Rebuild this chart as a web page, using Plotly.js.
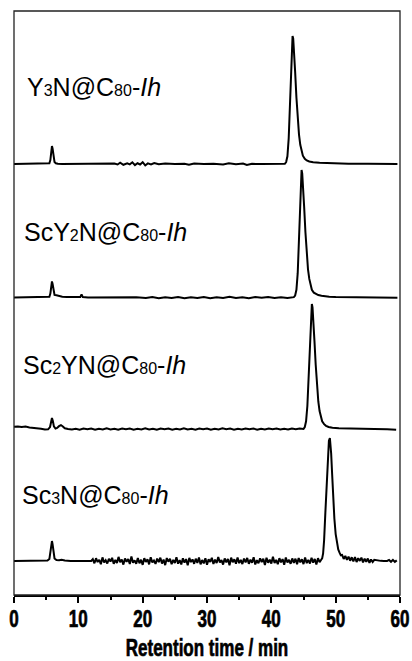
<!DOCTYPE html>
<html>
<head>
<meta charset="utf-8">
<script src="https://cdn.plot.ly/plotly-3.0.1.min.js"></script>
<style>html,body{margin:0;padding:0;background:#fff;}#chart{width:412px;height:661px;}</style>
</head>
<body>
<div id="chart"></div>
<script>
// ---- Data (retention time in min, detector signal in relative units) ----
const labels = [
  'Y<span style="font-size:16px">3</span>N@C<span style="font-size:16px">80</span>-<i>Ih</i>',
  'ScY<span style="font-size:16px">2</span>N@C<span style="font-size:16px">80</span>-<i>Ih</i>',
  'Sc<span style="font-size:16px">2</span>YN@C<span style="font-size:16px">80</span>-<i>Ih</i>',
  'Sc<span style="font-size:16px">3</span>N@C<span style="font-size:16px">80</span>-<i>Ih</i>'
];
const xTicks = [0, 10, 20, 30, 40, 50, 60];

// Y3N@C80-Ih
const t1 = [0, 2, 4, 5.2, 5.5, 5.65, 5.8, 5.9, 6.0, 6.15, 6.3, 6.5, 6.8, 7.5, 10, 13, 15,
  15.6, 16.1, 16.5, 17.0, 17.6, 18.0, 18.4, 18.8, 19.2, 19.6, 20.0, 20.4, 20.8, 21.3, 21.8, 22.5,
  23.5, 25, 26.5, 27.2, 28, 29.5, 31, 32.5, 33.4, 34.5, 35.6, 36.2, 37, 38.5, 40, 41.5, 42.1,
  42.3, 42.5, 42.7, 42.9, 43.05, 43.2, 43.3, 43.4, 43.55, 43.7, 43.9, 44.1, 44.3, 44.5, 44.7, 44.9, 45.2, 45.5, 45.9,
  46.5, 47.5, 48.5, 50, 52, 55, 59.6];
const s1 = [0, 0, 0, 0, 0.5, 3, 10, 14, 12, 5, 1.5, 0.6, 0.2, 0, 0, 0, 0,
  0.3, -0.4, 1.0, -0.6, 0.5, -0.3, 1.3, -0.9, 0.6, -0.4, 1.4, -1.1, 0.5, -0.4, 0.7, -0.2,
  0.3, 0, 0.2, -0.5, 0.3, 0, 0.2, -0.3, 0.6, -0.2, 0.4, -0.8, 0.1, 0, 0, 0, 0.2,
  1.5, 6, 20, 48, 72, 92, 100, 98, 88, 72, 52, 35, 23, 15, 9.5, 6.5, 4, 2.8, 2.0,
  1.4, 1.0, 0.7, 0.4, 0.2, 0.1, 0];

// ScY2N@C80-Ih
const t2 = [0, 2, 4, 5.2, 5.5, 5.65, 5.8, 5.9, 6.0, 6.15, 6.3, 6.6, 7.0, 7.5, 8.2, 9.5, 10.3, 10.5, 10.7, 11.5, 13, 15, 17,
  19, 20.5, 21.5, 22.5, 23.5, 24.5, 25.5, 26.5, 27.5, 28.5, 29.5, 30.5, 31.5, 32.5, 33.5, 34.5, 35.5, 36.5, 37.5, 38.5, 39.5, 40.5, 41.5, 42.5, 43.5,
  43.7, 43.9, 44.1, 44.3, 44.45, 44.6, 44.7, 44.8, 44.95, 45.1, 45.3, 45.5, 45.7, 45.9, 46.1, 46.3, 46.6, 46.9, 47.3,
  47.8, 48.3, 49, 50, 52, 55, 59.6];
const s2 = [0, 0, 0, 0, 0.5, 3, 9, 12.5, 10.5, 4.5, 2.0, 1.8, 1.2, 0.6, 0.3, 0.2, 0.3, 2.5, 0.3, 0, 0, 0, 0,
  0.2, -0.4, 0.3, -0.5, 0.2, -0.3, 0.4, -0.6, 0.1, -0.4, 0.3, -0.5, 0.2, -0.3, 0.5, -0.4, 0.2, -0.5, 0.3, -0.2, 0.4, -0.3, 0.2, -0.4, 0.3,
  1.5, 6, 19, 46, 70, 91, 99.6, 97, 87, 71, 51, 34, 22, 14.5, 9, 6, 3.8, 2.7, 1.9,
  1.3, 0.9, 0.6, 0.3, 0.1, 0, -0.1];

// Sc2YN@C80-Ih
const t3 = [0, 0.6, 1.2, 1.8, 2.4, 3, 3.6, 4.2, 4.8, 5.3, 5.6, 5.75, 5.9, 6.05, 6.2, 6.45, 6.7, 7.0, 7.3, 7.55, 7.9, 8.4, 9,
  9.6, 10.2, 10.8, 11.4, 12, 12.6, 13.2, 13.8, 14.4, 15, 15.6, 16.2, 16.8, 17.4, 18, 18.6, 19.2, 19.8, 20.4, 21, 21.6, 22.2, 22.8, 23.4, 24,
  24.6, 25.2, 25.8, 26.4, 27, 27.6, 28.2, 28.8, 29.4, 30, 30.6, 31.2, 31.8, 32.4, 33, 33.6, 34.2, 34.8, 35.4, 36, 36.6, 37.2, 37.8, 38.4, 39,
  39.6, 40.2, 40.8, 41.4, 42, 42.6, 43.2, 43.8, 44.4, 45.0,
  45.2, 45.4, 45.6, 45.8, 46.0, 46.15, 46.3, 46.4, 46.55, 46.7, 46.9, 47.1, 47.3, 47.5, 47.7, 47.9, 48.2, 48.5, 48.9,
  49.5, 50.5, 52, 54, 56, 58, 59.4];
const s3 = [1.8, 2.0, 1.6, 1.9, 1.2, 1.0, 0.5, 0.2, -0.4, -0.3, 1.5, 5, 8.6, 6, 2, 0.3, 0.8, 2.2, 3.0, 2.2, 0.6, 0, -0.3,
  0.2, -0.5, 0.3, -0.2, 0.4, -0.6, 0.1, -0.4, 0.5, -0.3, 0.2, -0.6, 0.3, -0.2, 0.4, -0.5, 0.2, -0.3, 0.5, -0.4, 0.1, -0.6, 0.3, -0.2, 0.4,
  -0.5, 0.2, -0.3, 0.6, -0.4, 0.1, -0.5, 0.3, -0.2, 0.4, -0.6, 0.2, -0.3, 0.5, -0.2, 0.3, -0.5, 0.2, -0.4, 0.4, -0.2, 0.3, -0.5, 0.2, -0.3,
  0.4, -0.2, 0.3, -0.4, 0.2, -0.3, 0.4, -0.2, 0.3, 0,
  1.5, 6, 18, 44, 68, 89, 97.7, 95, 85, 69, 50, 33, 21.5, 14, 9, 6, 3.8, 2.5, 1.6,
  1.0, 0.6, 0.3, 0.1, 0, -0.1, -0.6];

// Sc3N@C80-Ih
const t4 = [0, 2, 4, 5.2, 5.5, 5.65, 5.8, 5.9, 6.0, 6.15, 6.3, 6.6, 7.0, 7.4, 7.9, 8.8, 10, 11, 12,
  12.25, 12.5, 12.75, 13, 13.25, 13.5, 13.75, 14, 14.25, 14.5, 14.75, 15, 15.25, 15.5, 15.75, 16,
  16.25, 16.5, 16.75, 17, 17.25, 17.5, 17.75, 18, 18.25, 18.5, 18.75, 19, 19.25, 19.5, 19.75, 20,
  20.25, 20.5, 20.75, 21, 21.25, 21.5, 21.75, 22, 22.25, 22.5, 22.75, 23, 23.25, 23.5, 23.75, 24,
  24.25, 24.5, 24.75, 25, 25.25, 25.5, 25.75, 26, 26.25, 26.5, 26.75, 27, 27.25, 27.5, 27.75, 28,
  28.25, 28.5, 28.75, 29, 29.25, 29.5, 29.75, 30, 30.25, 30.5, 30.75, 31, 31.25, 31.5, 31.75, 32,
  32.25, 32.5, 32.75, 33, 33.25, 33.5, 33.75, 34, 34.25, 34.5, 34.75, 35, 35.25, 35.5, 35.75, 36,
  36.25, 36.5, 36.75, 37, 37.25, 37.5, 37.75, 38, 38.25, 38.5, 38.75, 39, 39.25, 39.5, 39.75, 40,
  40.25, 40.5, 40.75, 41, 41.25, 41.5, 41.75, 42, 42.25, 42.5, 42.75, 43, 43.25, 43.5, 43.75, 44,
  44.25, 44.5, 44.75, 45, 45.25, 45.5, 45.75, 46, 46.25, 46.5, 46.75, 47, 47.25, 47.5, 47.75,
  47.9, 48.05, 48.2, 48.4, 48.6, 48.8, 48.95, 49.1, 49.2, 49.3, 49.45, 49.6, 49.8, 50.0, 50.2, 50.4, 50.6, 50.8,
  51, 51.25, 51.5, 51.75, 52, 52.25, 52.5, 52.75, 53, 53.25, 53.5, 53.75, 54, 54.25, 54.5, 54.75, 55, 55.25, 55.5, 55.75, 56,
  56.5, 57, 57.5, 58, 58.3, 58.6, 58.9, 59.2, 59.5];
const s4 = [0, 0, 0.2, 0.3, 1.5, 6, 13, 15.6, 13, 6, 2, 0.8, 0.6, 1.0, 0.4, 0, 0, -0.2, 0,
  1.5, -1.8, 2.2, -0.8, 1.0, -2.5, 2.8, -1.2, 0.6, -2.0, 1.8, -0.5, 2.5, -2.2, 0.8, -1.5,
  3.2, -1.0, 1.2, -2.8, 2.0, -0.6, 1.6, -2.4, 3.5, -1.4, 0.5, -2.2, 2.4, -1.8, 1.0, -3.0,
  2.2, -0.7, 1.4, -2.6, 2.9, -1.1, 0.4, -2.3, 1.9, -0.9, 2.6, -2.0, 1.1, -3.2, 2.3, -0.5,
  1.7, -2.5, 0.9, -1.6, 3.0, -2.1, 0.6, -2.7, 2.1, -1.3, 1.5, -3.4, 2.4, -0.8, 1.2, -2.2,
  1.8, -1.5, 2.7, -2.6, 0.8, -1.9, 2.2, -3.0, 1.4, -0.7, 2.5, -2.3, 1.0, -1.6, 3.1, -1.2,
  0.7, -2.8, 2.0, -1.0, 1.6, -3.3, 2.6, -0.9, 1.3, -2.1, 2.8, -1.7, 0.9, -2.4, 1.9, -1.1,
  2.4, -2.2, 1.1, -1.4, 2.9, -2.7, 0.6, -1.8, 2.1, -0.8, 1.7, -3.1, 2.5, -1.3, 1.0, -2.0,
  3.3, -1.6, 0.8, -2.5, 2.2, -1.0, 1.5, -2.9, 2.7, -1.2, 0.9, -2.2, 2.0, -1.5, 1.8, -2.6,
  2.3, -1.1, 1.4, -2.4, 2.8, -1.7, 0.9, -2.0, 2.5, -1.3, 1.6, -2.8, 2.2, -0.9, 1.0,
  2.0, 6, 16, 38, 62, 84, 94, 96, 92, 84, 68, 50, 33, 21, 13.5, 9, 6.5, 4.5,
  4.8, 1.6, 4.0, 0.9, 3.4, 0.2, 2.9, -0.4, 3.1, -0.8, 2.2, 0.1, 2.6, -1.1, 1.8, -0.6, 1.9, -1.4, 1.2, -0.8, 0.9,
  0.3, 0.1, 0, 0, 0.8, -0.6, 0.9, -0.7, 0.5];

const times = [t1, t2, t3, t4];
const signals = [s1, s2, s3, s4];

// ---- Layout geometry (pixels) ----
const W = 412, H = 661;
const M = {l: 14, r: 12, t: 11, b: 66};
const plotH = H - M.t - M.b;          // 584
const pxPerUnit = 1.28;
const baselinePx = [164, 297.5, 429, 561]; // baseline position of each trace from top
const labelPos = [{x: 1.7, y: 87}, {x: 1.2, y: 232}, {x: 1.05, y: 365}, {x: 0.95, y: 495}];
const axisFont = {family: 'Liberation Sans, Arial', size: 23, color: '#000', weight: 'bold'};
const condense = 0.74; // condensed look of the axis lettering

const yNames = ['y', 'y2', 'y3', 'y4'];
const traces = times.map((t, i) => ({
  x: t, y: signals[i], type: 'scatter', mode: 'lines',
  xaxis: 'x', yaxis: yNames[i],
  line: {color: '#000', width: 2}, hoverinfo: 'skip', showlegend: false
}));

const layout = {
  width: W, height: H, margin: M,
  paper_bgcolor: '#fff', plot_bgcolor: '#fff',
  showlegend: false,
  xaxis: {
    range: [0, 60], tickvals: xTicks, ticktext: xTicks.map(String),
    ticks: 'outside', ticklen: 6, tickwidth: 2, tickcolor: '#000',
    minor: {dtick: 5, ticks: 'outside', ticklen: 3, tickwidth: 2, tickcolor: '#000', showgrid: false},
    showline: true, linewidth: 2, linecolor: '#000',
    showgrid: false, zeroline: false, ticklabeloverflow: 'allow',
    ticklabelstandoff: -4,
    tickfont: axisFont,
    title: {text: 'Retention time / min', standoff: 20, font: axisFont}
  },
  annotations: labels.map((txt, i) => ({
    text: txt, xref: 'x', yref: 'paper',
    x: labelPos[i].x, y: (H - M.b - labelPos[i].y) / plotH,
    xanchor: 'left', yanchor: 'middle', showarrow: false,
    font: {family: 'Liberation Sans, Arial', size: 25, color: '#000'}
  })),
  shapes: [{type: 'rect', xref: 'paper', yref: 'paper', x0: 0, x1: 1, y0: 0, y1: 1,
    line: {color: '#222', width: 1.3}, fillcolor: 'rgba(0,0,0,0)', layer: 'above'}]
};
yNames.forEach((n, i) => {
  const key = i === 0 ? 'yaxis' : 'yaxis' + (i + 1);
  const b = baselinePx[i];
  layout[key] = {
    range: [-(H - M.b - b) / pxPerUnit, (b - M.t) / pxPerUnit],
    visible: false, showgrid: false, zeroline: false, fixedrange: true
  };
  if (i > 0) layout[key].overlaying = 'y';
});

Plotly.newPlot('chart', traces, layout, {staticPlot: true, displayModeBar: false}).then(gd => {
  // horizontally condense (and slightly embolden) the axis lettering around its anchor point
  const els = Array.from(gd.querySelectorAll('.xtick text'));
  const ttl = gd.querySelector('.xtitle');
  if (ttl) els.push(ttl);
  els.forEach(el => {
    const tr = el.getAttribute('transform') || '';
    const x = parseFloat(el.getAttribute('x')) || 0;
    el.setAttribute('transform', tr + ` translate(${x},0) scale(${condense},1) translate(${-x},0)`);
    el.style.stroke = '#000';
    el.style.strokeWidth = '0.7px';
  });
});
</script>
</body>
</html>
